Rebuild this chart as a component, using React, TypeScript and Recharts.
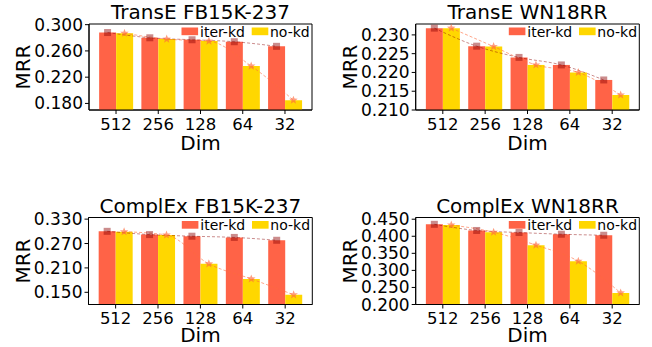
import React from 'react';
import { ComposedChart, Bar, Line, XAxis, YAxis, ReferenceArea } from 'recharts';

const DIMS = ['512', '256', '128', '64', '32'];

const TRANSE_FB_ITER = [0.288, 0.28, 0.277, 0.274, 0.267];
const TRANSE_FB_NOKD = [0.287, 0.278, 0.275, 0.237, 0.185];
const TRANSE_FB_TICKS = [0.18, 0.22, 0.26, 0.3];

const TRANSE_WN_ITER = [0.2318, 0.227, 0.224, 0.222, 0.218];
const TRANSE_WN_NOKD = [0.2318, 0.2269, 0.222, 0.22, 0.214];
const TRANSE_WN_TICKS = [0.21, 0.215, 0.22, 0.225, 0.23];

const COMPLEX_FB_ITER = [0.3, 0.292, 0.288, 0.285, 0.278];
const COMPLEX_FB_NOKD = [0.299, 0.291, 0.22, 0.183, 0.144];
const COMPLEX_FB_TICKS = [0.15, 0.21, 0.27, 0.33];

const COMPLEX_WN_ITER = [0.435, 0.417, 0.411, 0.406, 0.403];
const COMPLEX_WN_NOKD = [0.433, 0.412, 0.374, 0.327, 0.234];
const COMPLEX_WN_TICKS = [0.2, 0.25, 0.3, 0.35, 0.4, 0.45];

const FONT = '"DejaVu Sans", sans-serif';
const RED = '#ff6347';
const GOLD = '#ffd700';
const ITER_LINE = '#8b0000';
const NOKD_LINE = '#ff6a3d';

// matplotlib default x margins around bars of width 0.4
const X_MIN = -0.64;
const X_MAX = 4.64;

const CW = 326;
const CH = 172;

function SquareDot(props: any) {
  const { cx, cy } = props;
  if (cx == null || cy == null) return null;
  return <rect x={cx - 3.5} y={cy - 3.5} width={7} height={7} fill={ITER_LINE} fillOpacity={0.45} />;
}

function StarDot(props: any) {
  const { cx, cy } = props;
  if (cx == null || cy == null) return null;
  const pts: string[] = [];
  for (let k = 0; k < 10; k++) {
    const r = k % 2 === 0 ? 4.5 : 1.9;
    const a = -Math.PI / 2 + (k * Math.PI) / 5;
    pts.push(`${cx + r * Math.cos(a)},${cy + r * Math.sin(a)}`);
  }
  return <polygon points={pts.join(' ')} fill={NOKD_LINE} fillOpacity={0.65} />;
}

interface PanelProps {
  title: string;
  iter: number[];
  noKd: number[];
  domain: [number, number];
  ticks: number[];
  ox: number;
  oy: number;
  pl: number;
  pt: number;
  pw: number;
  ph: number;
  dimGap: number;
}

function Panel({ title, iter, noKd, domain, ticks, ox, oy, pl, pt, pw, ph, dimGap }: PanelProps) {
  const data = DIMS.map((dim, i) => ({
    dim,
    iter: iter[i],
    noKd: noKd[i],
    xi: i - 0.2,
    xn: i + 0.2,
  }));
  const unit = pw / (X_MAX - X_MIN);
  const pad = (0.5 + X_MIN) * -unit;
  const L = pl - ox;
  const T = pt - oy;
  const R = L + pw;
  const B = T + ph;

  return (
    <div style={{ position: 'absolute', left: ox, top: oy, width: CW, height: CH }}>
      <ComposedChart
        width={CW}
        height={CH}
        data={data}
        margin={{ top: T, right: CW - R, bottom: 0, left: 0 }}
        barCategoryGap="10%"
        barGap={0}
      >
        <XAxis
          xAxisId="cat"
          dataKey="dim"
          interval={0}
          padding={{ left: pad, right: pad }}
          height={CH - B}
          tickSize={4}
          tickMargin={4}
          tick={{ fontSize: 16.5, fill: '#000', fontFamily: FONT }}
          tickLine={{ stroke: '#000' }}
          axisLine={{ stroke: '#000' }}
        />
        <XAxis xAxisId="xi" type="number" dataKey="xi" domain={[X_MIN, X_MAX]} hide />
        <XAxis xAxisId="xn" type="number" dataKey="xn" domain={[X_MIN, X_MAX]} hide />
        <YAxis
          domain={domain}
          ticks={ticks}
          interval={0}
          allowDataOverflow
          width={L}
          tickSize={4}
          tickFormatter={(v: number) => v.toFixed(3)}
          tick={{ fontSize: 17, fill: '#000', fontFamily: FONT }}
          tickLine={{ stroke: '#000' }}
          axisLine={{ stroke: '#000' }}
        />
        <Bar xAxisId="cat" dataKey="iter" fill={RED} isAnimationActive={false} />
        <Bar xAxisId="cat" dataKey="noKd" fill={GOLD} isAnimationActive={false} />
        <Line
          xAxisId="xi"
          dataKey="iter"
          type="monotone"
          stroke={ITER_LINE}
          strokeOpacity={0.45}
          strokeWidth={1}
          strokeDasharray="3 2"
          dot={<SquareDot />}
          activeDot={false}
          isAnimationActive={false}
        />
        <Line
          xAxisId="xn"
          dataKey="noKd"
          type="monotone"
          stroke={NOKD_LINE}
          strokeOpacity={0.6}
          strokeWidth={1}
          strokeDasharray="3 2"
          dot={<StarDot />}
          activeDot={false}
          isAnimationActive={false}
        />
        <ReferenceArea
          xAxisId="xi"
          x1={X_MIN}
          x2={X_MAX}
          y1={domain[0]}
          y2={domain[1]}
          fill="none"
          stroke="#000"
          strokeWidth={1}
          ifOverflow="visible"
        />
      </ComposedChart>
      <svg
        width={CW}
        height={CH}
        style={{ position: 'absolute', left: 0, top: 0, pointerEvents: 'none', overflow: 'visible' }}
        fontFamily={FONT}
      >
        <text x={L + pw / 2} y={T - 5} textAnchor="middle" fontSize={20} fill="#000">
          {title}
        </text>
        <text x={L + pw / 2} y={B + dimGap} textAnchor="middle" fontSize={20} fill="#000">
          Dim
        </text>
        <text
          transform={`translate(${L - 59}, ${T + ph / 2}) rotate(-90)`}
          textAnchor="middle"
          fontSize={20}
          fill="#000"
        >
          MRR
        </text>
        <rect x={R - 130.5} y={T + 3.5} width={16.6} height={7.7} fill={RED} />
        <text x={R - 112} y={T + 12.5} fontSize={14} fill="#000">
          iter-kd
        </text>
        <rect x={R - 60.3} y={T + 3.5} width={16.6} height={7.7} fill={GOLD} />
        <text x={R - 42} y={T + 12.5} fontSize={14} fill="#000">
          no-kd
        </text>
      </svg>
    </div>
  );
}

export default function App() {
  return (
    <div style={{ position: 'absolute', left: 0, top: 0, width: 652, height: 347, background: '#fff', overflow: 'hidden' }}>
      <Panel
        title="TransE FB15K-237"
        iter={TRANSE_FB_ITER}
        noKd={TRANSE_FB_NOKD}
        domain={[0.17, 0.301]}
        ticks={TRANSE_FB_TICKS}
        ox={0}
        oy={0}
        pl={89}
        pt={24}
        pw={223}
        ph={86}
        dimGap={40}
      />
      <Panel
        title="TransE WN18RR"
        iter={TRANSE_WN_ITER}
        noKd={TRANSE_WN_NOKD}
        domain={[0.21, 0.2329]}
        ticks={TRANSE_WN_TICKS}
        ox={326}
        oy={0}
        pl={415.7}
        pt={24}
        pw={223.6}
        ph={86}
        dimGap={40}
      />
      <Panel
        title="ComplEx FB15K-237"
        iter={COMPLEX_FB_ITER}
        noKd={COMPLEX_FB_NOKD}
        domain={[0.12, 0.334]}
        ticks={COMPLEX_FB_TICKS}
        ox={0}
        oy={175}
        pl={88.5}
        pt={217.5}
        pw={223.8}
        ph={87}
        dimGap={37}
      />
      <Panel
        title="ComplEx WN18RR"
        iter={COMPLEX_WN_ITER}
        noKd={COMPLEX_WN_NOKD}
        domain={[0.2, 0.455]}
        ticks={COMPLEX_WN_TICKS}
        ox={326}
        oy={175}
        pl={415.7}
        pt={217.5}
        pw={223.6}
        ph={87}
        dimGap={37}
      />
    </div>
  );
}
